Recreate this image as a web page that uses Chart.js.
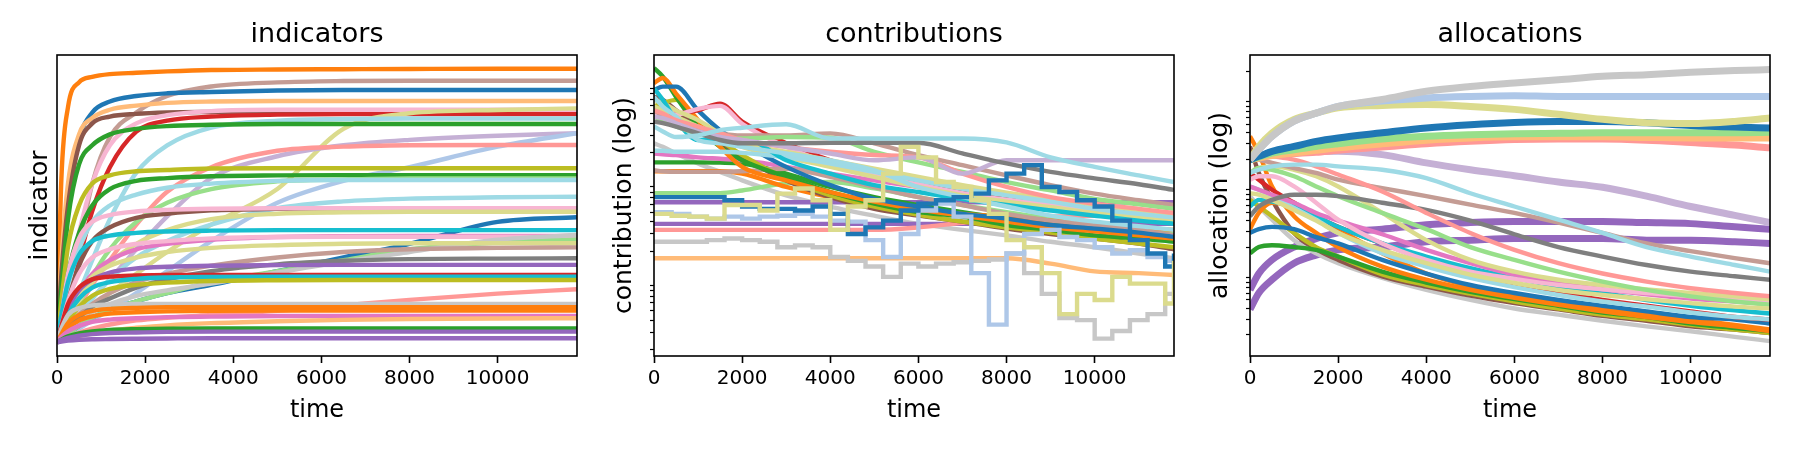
<!DOCTYPE html>
<html>
<head>
<meta charset="utf-8">
<script src="https://cdn.jsdelivr.net/npm/chart.js@4.4.1/dist/chart.umd.min.js"></script>
<style>
  html, body { margin: 0; padding: 0; background: #fff; overflow: hidden; }
  #wrap { position: relative; width: 1800px; height: 450px; overflow: hidden; }
  canvas { position: absolute; top: 0; }
</style>
</head>
<body>
<div id="wrap">
  <canvas id="c1" width="634" height="450" style="left:0px"></canvas>
  <canvas id="c2" width="634" height="450" style="left:597px"></canvas>
  <canvas id="c3" width="634" height="450" style="left:1193px"></canvas>
</div>
<script>
const tab20 = ['#1f77b4', '#aec7e8', '#ff7f0e', '#ffbb78', '#2ca02c', '#98df8a', '#d62728', '#ff9896', '#9467bd', '#c5b0d5',
               '#8c564b', '#c49c94', '#e377c2', '#f7b6d2', '#7f7f7f', '#c7c7c7', '#bcbd22', '#dbdb8d', '#17becf', '#9edae5'];

const xTicks = [0, 2000, 4000, 6000, 8000, 10000];
const timeMax = 11800;

// ---- indicators (linear) ----
const indicatorTimes = [0, 100, 250, 500, 800, 1200, 1800, 2500, 3500, 5000, 6500, 8000, 10000, 11800];
const indicatorColors = [2, 11, 0, 3, 10, 13, 6, 17, 19, 4, 9, 1, 7, 16, 4, 5, 19, 19, 10, 13, 17, 0,
                         18, 12, 13, 5, 15, 17, 11, 14, 8, 6, 18, 16, 7, 15, 2, 2, 12, 3, 4, 8, 8];
const indicatorSeries = [
  [0, 0.6, 0.86, 0.95, 0.97, 0.98, 0.985, 0.99, 0.995, 0.997, 0.998, 0.999, 1.0, 1.0],
  [0, 0.05, 0.15, 0.35, 0.58, 0.75, 0.84, 0.9, 0.935, 0.95, 0.955, 0.956, 0.956, 0.956],
  [0, 0.25, 0.5, 0.74, 0.84, 0.88, 0.9, 0.91, 0.915, 0.92, 0.922, 0.922, 0.922, 0.922],
  [0, 0.3, 0.58, 0.76, 0.82, 0.85, 0.865, 0.875, 0.88, 0.882, 0.882, 0.882, 0.882, 0.882],
  [0, 0.25, 0.5, 0.72, 0.8, 0.825, 0.835, 0.84, 0.842, 0.843, 0.843, 0.843, 0.843, 0.843],
  [0, 0.08, 0.2, 0.4, 0.58, 0.72, 0.8, 0.83, 0.845, 0.85, 0.85, 0.85, 0.85, 0.85],
  [0, 0.05, 0.14, 0.3, 0.48, 0.64, 0.77, 0.81, 0.825, 0.832, 0.834, 0.834, 0.834, 0.834],
  [0, 0.01, 0.03, 0.07, 0.12, 0.18, 0.25, 0.33, 0.43, 0.56, 0.78, 0.837, 0.849, 0.855],
  [0, 0.03, 0.08, 0.18, 0.3, 0.45, 0.62, 0.72, 0.785, 0.81, 0.816, 0.818, 0.818, 0.818],
  [0, 0.2, 0.45, 0.65, 0.72, 0.76, 0.78, 0.79, 0.795, 0.798, 0.798, 0.798, 0.798, 0.798],
  [0, 0.02, 0.05, 0.1, 0.16, 0.23, 0.34, 0.46, 0.6, 0.68, 0.72, 0.74, 0.755, 0.764],
  [0, 0.01, 0.025, 0.05, 0.08, 0.12, 0.18, 0.26, 0.37, 0.51, 0.59, 0.64, 0.715, 0.764],
  [0, 0.02, 0.06, 0.13, 0.21, 0.3, 0.43, 0.55, 0.64, 0.7, 0.715, 0.72, 0.721, 0.721],
  [0, 0.15, 0.35, 0.5, 0.58, 0.61, 0.625, 0.63, 0.635, 0.636, 0.636, 0.636, 0.636, 0.636],
  [0, 0.1, 0.25, 0.4, 0.5, 0.56, 0.59, 0.6, 0.607, 0.61, 0.611, 0.611, 0.611, 0.611],
  [0, 0.02, 0.06, 0.14, 0.24, 0.34, 0.44, 0.51, 0.56, 0.588, 0.595, 0.599, 0.599, 0.599],
  [0, 0.08, 0.2, 0.34, 0.44, 0.5, 0.54, 0.565, 0.58, 0.59, 0.593, 0.593, 0.593, 0.593],
  [0, 0.02, 0.05, 0.1, 0.16, 0.23, 0.31, 0.37, 0.43, 0.49, 0.515, 0.525, 0.53, 0.532],
  [0, 0.06, 0.15, 0.28, 0.37, 0.42, 0.455, 0.47, 0.482, 0.488, 0.49, 0.49, 0.49, 0.49],
  [0, 0.1, 0.25, 0.38, 0.44, 0.465, 0.478, 0.484, 0.488, 0.49, 0.49, 0.49, 0.49, 0.49],
  [0, 0.03, 0.08, 0.15, 0.22, 0.29, 0.36, 0.41, 0.45, 0.47, 0.475, 0.477, 0.477, 0.477],
  [0, 0.01, 0.03, 0.06, 0.09, 0.12, 0.15, 0.18, 0.21, 0.26, 0.31, 0.36, 0.44, 0.457],
  [0, 0.1, 0.22, 0.32, 0.37, 0.39, 0.4, 0.405, 0.408, 0.41, 0.41, 0.41, 0.41, 0.41],
  [0, 0.04, 0.1, 0.18, 0.25, 0.3, 0.34, 0.36, 0.375, 0.385, 0.388, 0.389, 0.389, 0.389],
  [0, 0.06, 0.15, 0.25, 0.31, 0.34, 0.36, 0.37, 0.38, 0.385, 0.386, 0.386, 0.386, 0.386],
  [0, 0.01, 0.03, 0.06, 0.09, 0.12, 0.15, 0.18, 0.22, 0.26, 0.3, 0.34, 0.365, 0.376],
  [0, 0.02, 0.05, 0.08, 0.11, 0.14, 0.17, 0.19, 0.215, 0.255, 0.295, 0.33, 0.375, 0.392],
  [0, 0.04, 0.1, 0.18, 0.24, 0.28, 0.31, 0.33, 0.345, 0.355, 0.36, 0.362, 0.362, 0.362],
  [0, 0.02, 0.05, 0.1, 0.14, 0.18, 0.22, 0.25, 0.28, 0.31, 0.33, 0.34, 0.345, 0.347],
  [0, 0.02, 0.05, 0.09, 0.13, 0.16, 0.2, 0.23, 0.26, 0.285, 0.298, 0.304, 0.306, 0.307],
  [0, 0.05, 0.12, 0.19, 0.23, 0.255, 0.27, 0.276, 0.28, 0.282, 0.283, 0.283, 0.283, 0.283],
  [0, 0.06, 0.14, 0.2, 0.23, 0.24, 0.244, 0.246, 0.246, 0.246, 0.246, 0.246, 0.246, 0.246],
  [0, 0.04, 0.1, 0.16, 0.2, 0.22, 0.232, 0.237, 0.239, 0.24, 0.24, 0.24, 0.24, 0.24],
  [0, 0.03, 0.08, 0.13, 0.17, 0.195, 0.21, 0.218, 0.224, 0.227, 0.228, 0.228, 0.228, 0.228],
  [0, 0.01, 0.02, 0.035, 0.05, 0.065, 0.08, 0.09, 0.1, 0.115, 0.135, 0.155, 0.178, 0.194],
  [0, 0.05, 0.1, 0.125, 0.135, 0.138, 0.14, 0.14, 0.14, 0.14, 0.14, 0.14, 0.14, 0.14],
  [0, 0.03, 0.07, 0.1, 0.115, 0.122, 0.126, 0.128, 0.128, 0.128, 0.128, 0.128, 0.128, 0.128],
  [0, 0.02, 0.05, 0.08, 0.095, 0.105, 0.11, 0.113, 0.115, 0.116, 0.116, 0.116, 0.116, 0.116],
  [0, 0.02, 0.04, 0.06, 0.075, 0.083, 0.088, 0.092, 0.094, 0.096, 0.096, 0.096, 0.096, 0.096],
  [0, 0.005, 0.012, 0.022, 0.033, 0.043, 0.053, 0.062, 0.07, 0.077, 0.082, 0.085, 0.087, 0.088],
  [0, 0.01, 0.022, 0.033, 0.04, 0.045, 0.048, 0.05, 0.051, 0.051, 0.051, 0.051, 0.051, 0.051],
  [0, 0.008, 0.016, 0.024, 0.03, 0.034, 0.036, 0.038, 0.039, 0.039, 0.039, 0.039, 0.039, 0.039],
  [0, 0.003, 0.006, 0.009, 0.011, 0.012, 0.013, 0.014, 0.015, 0.015, 0.015, 0.015, 0.015, 0.015]
];

// ---- contributions (log) ----
const contributionTimes = [0, 200, 500, 1000, 1500, 2000, 3000, 4000, 5000, 6000, 7000, 8000, 9000, 10000, 11000, 11800];
const contributionColors = [15, 3, 8, 8, 7, 5, 4, 2, 12, 11, 10, 16, 4, 2, 0, 6, 13, 17, 17, 19, 18, 19, 11, 5, 7, 9, 14, 19];
const contributionSeries = [
  [0.025, 0.023, 0.0197, 0.0156, 0.0128, 0.0105, 0.0074, 0.0057, 0.0046, 0.0038, 0.0033, 0.0029, 0.0025, 0.0022, 0.0019, 0.0017],
  [0.0017, 0.0017, 0.0017, 0.0017, 0.0017, 0.0017, 0.0017, 0.0017, 0.0017, 0.0017, 0.0017, 0.0017, 0.0015, 0.00125, 0.0012, 0.00115],
  [0.0063, 0.0063, 0.0063, 0.0063, 0.0063, 0.0063, 0.0063, 0.0063, 0.0063, 0.0063, 0.0063, 0.0063, 0.0063, 0.0063, 0.0063, 0.0063],
  [0.0038, 0.0038, 0.0038, 0.0038, 0.0038, 0.0038, 0.0038, 0.0038, 0.0038, 0.0038, 0.0038, 0.0038, 0.0038, 0.0038, 0.0038, 0.0038],
  [0.0033, 0.0033, 0.0033, 0.0033, 0.0033, 0.0033, 0.0033, 0.0033, 0.0033, 0.0035, 0.0039, 0.0043, 0.0045, 0.0046, 0.0047, 0.0047],
  [0.0078, 0.0078, 0.0078, 0.0078, 0.0078, 0.0083, 0.0098, 0.0101, 0.0087, 0.0071, 0.0059, 0.005, 0.0043, 0.0038, 0.0034, 0.0032],
  [0.016, 0.016, 0.016, 0.016, 0.0159, 0.0156, 0.0123, 0.009, 0.0071, 0.0059, 0.005, 0.0043, 0.0038, 0.0034, 0.0031, 0.0028],
  [0.013, 0.013, 0.013, 0.013, 0.013, 0.0123, 0.009, 0.0071, 0.0061, 0.0054, 0.0048, 0.0045, 0.0041, 0.0038, 0.0035, 0.0033],
  [0.0197, 0.0193, 0.019, 0.018, 0.0174, 0.0168, 0.0144, 0.0123, 0.0105, 0.009, 0.0078, 0.0068, 0.0061, 0.0054, 0.0048, 0.0045],
  [0.0133, 0.013, 0.0128, 0.0128, 0.0128, 0.013, 0.0138, 0.0114, 0.009, 0.0071, 0.0059, 0.0048, 0.0041, 0.0037, 0.0033, 0.0029],
  [0.074, 0.069, 0.054, 0.037, 0.025, 0.018, 0.0105, 0.0071, 0.0054, 0.0046, 0.004, 0.0034, 0.003, 0.0027, 0.0024, 0.0021],
  [0.059, 0.064, 0.069, 0.04, 0.027, 0.019, 0.011, 0.0074, 0.0057, 0.0047, 0.004, 0.0035, 0.0031, 0.0027, 0.0024, 0.0022],
  [0.145, 0.119, 0.074, 0.037, 0.023, 0.0168, 0.0114, 0.008, 0.0061, 0.005, 0.0045, 0.0037, 0.0033, 0.0029, 0.0027, 0.0025],
  [0.102, 0.115, 0.08, 0.043, 0.023, 0.0144, 0.0105, 0.008, 0.0064, 0.0053, 0.0046, 0.004, 0.0035, 0.0032, 0.0029, 0.0027],
  [0.087, 0.094, 0.094, 0.054, 0.034, 0.025, 0.0144, 0.0094, 0.0068, 0.0057, 0.0048, 0.0043, 0.0037, 0.0034, 0.0031, 0.0028],
  [0.0465, 0.048, 0.05, 0.054, 0.063, 0.0415, 0.025, 0.0168, 0.0123, 0.0098, 0.008, 0.0068, 0.0061, 0.0055, 0.0048, 0.0045],
  [0.05, 0.05, 0.049, 0.056, 0.06, 0.0395, 0.023, 0.0156, 0.0118, 0.0096, 0.0078, 0.0067, 0.006, 0.0053, 0.0047, 0.0044],
  [0.059, 0.054, 0.0465, 0.037, 0.029, 0.023, 0.018, 0.0144, 0.0114, 0.009, 0.0074, 0.0064, 0.0056, 0.0049, 0.0044, 0.004],
  [0.069, 0.064, 0.054, 0.043, 0.0315, 0.025, 0.0205, 0.0168, 0.0138, 0.0114, 0.0094, 0.0079, 0.0068, 0.0059, 0.0052, 0.0047],
  [0.021, 0.021, 0.0205, 0.0205, 0.0205, 0.02, 0.018, 0.0156, 0.0128, 0.0105, 0.0086, 0.0074, 0.0064, 0.0054, 0.0048, 0.0044],
  [0.09, 0.069, 0.043, 0.027, 0.028, 0.0285, 0.0168, 0.0123, 0.0094, 0.008, 0.0068, 0.0059, 0.0052, 0.0046, 0.0041, 0.0038],
  [0.074, 0.059, 0.0465, 0.027, 0.025, 0.023, 0.0197, 0.0168, 0.0133, 0.009, 0.0071, 0.0057, 0.0046, 0.004, 0.0036, 0.0033],
  [0.054, 0.048, 0.0415, 0.0355, 0.0315, 0.03, 0.03, 0.0315, 0.025, 0.019, 0.015, 0.0118, 0.0094, 0.0077, 0.0066, 0.0059],
  [0.0465, 0.043, 0.037, 0.0315, 0.029, 0.028, 0.029, 0.0285, 0.0205, 0.016, 0.0128, 0.0101, 0.0083, 0.0068, 0.006, 0.0054],
  [0.054, 0.05, 0.043, 0.037, 0.0315, 0.027, 0.023, 0.0205, 0.019, 0.018, 0.0123, 0.009, 0.0071, 0.0061, 0.0054, 0.0049],
  [0.0465, 0.045, 0.04, 0.033, 0.029, 0.027, 0.023, 0.0197, 0.0168, 0.018, 0.0123, 0.0168, 0.0168, 0.0168, 0.0168, 0.0168],
  [0.0415, 0.04, 0.037, 0.0315, 0.027, 0.025, 0.025, 0.0253, 0.0253, 0.0253, 0.0197, 0.0156, 0.0128, 0.011, 0.0096, 0.0084],
  [0.037, 0.033, 0.029, 0.03, 0.034, 0.036, 0.039, 0.028, 0.028, 0.028, 0.028, 0.0255, 0.018, 0.0144, 0.0118, 0.0101]
];
const contributionStepTimes = [0, 400, 800, 1200, 1600, 2000, 2400, 2800, 3200, 3600, 4000, 4400, 4800, 5200, 5600, 6000,
                               6400, 6800, 7200, 7600, 8000, 8400, 8800, 9200, 9600, 10000, 10400, 10800, 11200, 11600, 11800];
const contributionStepColors = [15, 1, 0, 17];
const contributionStepSeries = [
  [0.0025, 0.0025, 0.0025, 0.0026, 0.0027, 0.0026, 0.0025, 0.0022, 0.0023, 0.0022, 0.00175, 0.0016, 0.0014, 0.0011, 0.0015, 0.0014,
   0.0015, 0.00155, 0.0016, 0.00165, 0.0019, 0.0012, 0.00074, 0.00042, 0.0004, 0.00026, 0.00031, 0.0004, 0.00046, 0.00074, 0.00064],
  [0.005, 0.0048, 0.0045, 0.0043, 0.0045, 0.0043, 0.0045, 0.0046, 0.0048, 0.0045, 0.0041, 0.004, 0.0026, 0.00175, 0.003, 0.0052,
   0.0061, 0.0045, 0.0012, 0.00036, 0.0019, 0.003, 0.0033, 0.0028, 0.0026, 0.0022, 0.0019, 0.00205, 0.00175, 0.0016, 0.0016],
  [0.0071, 0.0071, 0.0071, 0.0071, 0.0066, 0.0057, 0.0054, 0.0054, 0.0052, 0.0057, 0.0048, 0.003, 0.0035, 0.0041, 0.0052, 0.0061,
   0.0066, 0.0071, 0.0077, 0.0105, 0.0123, 0.015, 0.009, 0.008, 0.0066, 0.0057, 0.0041, 0.0026, 0.0019, 0.0014, 0.0019],
  [0.0048, 0.0046, 0.0045, 0.0043, 0.0059, 0.0059, 0.0052, 0.0077, 0.0087, 0.0066, 0.0033, 0.0057, 0.0066, 0.0123, 0.023, 0.018,
   0.0101, 0.009, 0.0066, 0.0048, 0.0026, 0.0022, 0.0012, 0.00046, 0.00074, 0.00064, 0.0011, 0.00094, 0.00094, 0.00059, 0.0016]
];
const contributionMinorTicks = [0.09, 0.08, 0.07, 0.06, 0.05, 0.04, 0.03, 0.02,
                                0.009, 0.008, 0.007, 0.006, 0.005, 0.004, 0.003, 0.002,
                                0.0009, 0.0008, 0.0007, 0.0006, 0.0005, 0.0004, 0.0003, 0.0002];

// ---- allocations (log) ----
const allocationTimes = [0, 200, 500, 1000, 1500, 2000, 3000, 4000, 5000, 6000, 7000, 8000, 9000, 10000, 11000, 11800];
const allocationColors = [8, 8, 15, 10, 16, 4, 2, 2, 0, 6, 18, 19, 12, 13, 17, 5, 17, 14, 11, 7, 19, 9, 7, 3, 5, 0, 17, 1, 15];
const allocationSeries = [
  [0.00065, 0.001, 0.00143, 0.002, 0.0025, 0.0029, 0.0032, 0.0036, 0.0038, 0.0039, 0.0039, 0.0039, 0.0038, 0.0037, 0.0034, 0.0032],
  [0.00039, 0.0006, 0.00085, 0.00131, 0.00162, 0.00186, 0.002, 0.0023, 0.0024, 0.0025, 0.0025, 0.0025, 0.0024, 0.0024, 0.0023, 0.0022],
  [0.0076, 0.0058, 0.0041, 0.0024, 0.0017, 0.00131, 0.00089, 0.00065, 0.0005, 0.0004, 0.00034, 0.00029, 0.00025, 0.00022, 0.00019, 0.00017],
  [0.028, 0.014, 0.0069, 0.0029, 0.0019, 0.00143, 0.00093, 0.00071, 0.00056, 0.00046, 0.00039, 0.00033, 0.00029, 0.00025, 0.00023, 0.00021],
  [0.0069, 0.0058, 0.0045, 0.0029, 0.002, 0.00156, 0.00098, 0.00074, 0.00059, 0.00048, 0.0004, 0.00034, 0.0003, 0.00026, 0.00023, 0.00021],
  [0.0017, 0.002, 0.0021, 0.002, 0.00186, 0.00156, 0.00105, 0.00079, 0.00062, 0.00051, 0.00043, 0.00036, 0.00032, 0.00027, 0.00024, 0.00022],
  [0.0365, 0.0236, 0.0098, 0.0045, 0.0029, 0.002, 0.0012, 0.00085, 0.00065, 0.00053, 0.00044, 0.00037, 0.00032, 0.00028, 0.00025, 0.00022],
  [0.0032, 0.0049, 0.0064, 0.0058, 0.0045, 0.0032, 0.0017, 0.001, 0.00071, 0.00056, 0.00046, 0.0004, 0.00034, 0.0003, 0.00026, 0.00023],
  [0.0029, 0.0032, 0.0034, 0.0032, 0.0026, 0.0022, 0.00143, 0.001, 0.00074, 0.0006, 0.0005, 0.00043, 0.00037, 0.00032, 0.0003, 0.00027],
  [0.014, 0.0117, 0.009, 0.0064, 0.0045, 0.0034, 0.0022, 0.00143, 0.001, 0.00074, 0.0006, 0.0005, 0.00043, 0.00037, 0.00032, 0.0003],
  [0.0058, 0.0069, 0.0066, 0.0058, 0.0045, 0.0034, 0.0022, 0.00156, 0.00115, 0.00089, 0.00071, 0.0006, 0.0005, 0.00043, 0.00038, 0.00035],
  [0.0098, 0.009, 0.0076, 0.0056, 0.0041, 0.0029, 0.0017, 0.0012, 0.00089, 0.0007, 0.00057, 0.00048, 0.00042, 0.00036, 0.00032, 0.0003],
  [0.0098, 0.009, 0.0079, 0.0064, 0.0049, 0.004, 0.0028, 0.00186, 0.00131, 0.00097, 0.00078, 0.00066, 0.00058, 0.00052, 0.00048, 0.00045],
  [0.0117, 0.0128, 0.0128, 0.0098, 0.0064, 0.0041, 0.0022, 0.00143, 0.00105, 0.00087, 0.00074, 0.00066, 0.0006, 0.00055, 0.00051, 0.00048],
  [0.014, 0.0159, 0.0166, 0.0152, 0.0128, 0.0098, 0.0049, 0.0024, 0.00143, 0.00105, 0.00085, 0.00074, 0.00066, 0.0006, 0.00055, 0.00051],
  [0.014, 0.0159, 0.0152, 0.0128, 0.0098, 0.0076, 0.0049, 0.0032, 0.002, 0.00143, 0.00105, 0.00081, 0.00065, 0.00055, 0.00048, 0.00044],
  [0.0082, 0.0079, 0.0069, 0.0053, 0.004, 0.0029, 0.00186, 0.00131, 0.00097, 0.00078, 0.00065, 0.00057, 0.00051, 0.00046, 0.00042, 0.0004],
  [0.0045, 0.0058, 0.0069, 0.0079, 0.0079, 0.0076, 0.0064, 0.0053, 0.004, 0.0028, 0.002, 0.00156, 0.00125, 0.00105, 0.00093, 0.00085],
  [0.0216, 0.0198, 0.0182, 0.0159, 0.014, 0.0117, 0.0094, 0.0076, 0.0061, 0.0049, 0.0038, 0.0029, 0.0022, 0.0018, 0.0015, 0.00131],
  [0.0216, 0.0226, 0.0216, 0.0198, 0.0166, 0.0134, 0.0086, 0.0049, 0.0029, 0.00186, 0.00131, 0.001, 0.00081, 0.00068, 0.0006, 0.00055],
  [0.014, 0.0152, 0.0166, 0.0174, 0.0174, 0.0166, 0.0152, 0.0122, 0.0082, 0.0058, 0.0041, 0.0029, 0.002, 0.00156, 0.00125, 0.00105],
  [0.0198, 0.0216, 0.0232, 0.024, 0.0245, 0.0247, 0.0226, 0.0182, 0.0152, 0.013, 0.011, 0.0096, 0.0076, 0.0058, 0.0046, 0.0038],
  [0.0216, 0.022, 0.0226, 0.0232, 0.024, 0.0253, 0.0275, 0.03, 0.032, 0.0335, 0.034, 0.034, 0.033, 0.031, 0.029, 0.027],
  [0.0198, 0.0207, 0.022, 0.0236, 0.0253, 0.027, 0.03, 0.033, 0.035, 0.036, 0.036, 0.036, 0.0355, 0.035, 0.035, 0.035],
  [0.0198, 0.0212, 0.0236, 0.0257, 0.028, 0.03, 0.034, 0.0365, 0.038, 0.039, 0.0395, 0.04, 0.04, 0.04, 0.04, 0.0405],
  [0.0198, 0.0216, 0.0246, 0.028, 0.032, 0.035, 0.04, 0.0455, 0.0495, 0.0525, 0.054, 0.054, 0.052, 0.0485, 0.0465, 0.0455],
  [0.0198, 0.028, 0.04, 0.057, 0.067, 0.077, 0.082, 0.084, 0.08, 0.074, 0.065, 0.057, 0.052, 0.051, 0.054, 0.059],
  [0.0198, 0.0257, 0.0365, 0.0545, 0.067, 0.08, 0.092, 0.1, 0.104, 0.106, 0.104, 0.104, 0.104, 0.104, 0.104, 0.104],
  [0.0198, 0.0257, 0.0365, 0.0545, 0.067, 0.08, 0.096, 0.119, 0.135, 0.148, 0.161, 0.176, 0.184, 0.196, 0.205, 0.21]
];
const allocationMinorTicks = [0.2, 0.09, 0.08, 0.07, 0.06, 0.05, 0.04, 0.03, 0.02,
                              0.009, 0.008, 0.007, 0.006, 0.005, 0.004, 0.003, 0.002,
                              0.0009, 0.0008, 0.0007, 0.0006, 0.0005, 0.0004, 0.0003, 0.0002];

const FONT = 'DejaVu Sans';
const LINE_W = 4.4;
// the jittery allocation series read as wide bands in the reference
const allocationBand = new Set([0, 1, 21, 22, 23, 24, 25, 26, 27, 28]);

// box around the plot area, like the matplotlib spines
const framePlugin = {
  id: 'frame',
  afterDatasetsDraw(chart) {
    const { ctx, chartArea: a } = chart;
    ctx.save();
    ctx.strokeStyle = '#000';
    ctx.lineWidth = 1.6;
    ctx.strokeRect(a.left, a.top, a.right - a.left, a.bottom - a.top);
    ctx.restore();
  }
};

function toPoints(times, values) {
  return times.map((t, i) => ({ x: t, y: values[i] }));
}

function lineSets(times, series, colors, stepped, widthOf) {
  return series.map((vals, i) => ({
    data: toPoints(times, vals),
    borderColor: tab20[colors[i]],
    borderWidth: widthOf ? widthOf(i) : LINE_W,
    pointRadius: 0,
    fill: false,
    clip: 0,
    stepped: stepped ? 'before' : false,
    cubicInterpolationMode: 'monotone'
  }));
}

function makePanel(id, title, yLabel, datasets, yScale, yTitlePad) {
  datasets.forEach((d, i) => { d.order = datasets.length - i; });
  return new Chart(document.getElementById(id), {
    type: 'line',
    data: { datasets },
    plugins: [framePlugin],
    options: {
      responsive: false,
      animation: false,
      devicePixelRatio: 1,
      layout: { padding: 0 },
      plugins: {
        legend: { display: false },
        tooltip: { enabled: false },
        title: {
          display: true, text: title, color: '#000',
          font: { family: FONT, size: 27, weight: 'normal' },
          padding: { top: 18.6, bottom: 4 }
        }
      },
      scales: {
        x: {
          type: 'linear', min: 0, max: timeMax,
          afterBuildTicks: s => { s.ticks = xTicks.map(v => ({ value: v })); },
          afterFit: s => { s.height = 94; },
          grid: { display: true, drawOnChartArea: false, drawTicks: true, tickLength: 7, tickWidth: 1.6, tickColor: '#000' },
          border: { display: false },
          ticks: { color: '#000', font: { family: FONT, size: 20 }, padding: 4, maxRotation: 0, autoSkip: false,
                   callback: v => String(v) },
          title: { display: true, text: 'time', color: '#000', font: { family: FONT, size: 24 }, padding: { top: 0, bottom: 25 } }
        },
        y: Object.assign({
          afterFit: s => { s.width = 57; },
          border: { display: false },
          title: { display: true, text: yLabel, color: '#000', font: { family: FONT, size: 25 }, padding: { top: yTitlePad, bottom: 0 } }
        }, yScale),
        // empty right-hand gutter so the title centres over the plot
        gutter: {
          type: 'linear', position: 'right', display: true,
          afterFit: s => { s.width = 57; },
          grid: { display: false }, border: { display: false }, ticks: { display: false }
        }
      }
    }
  });
}

makePanel('c1', 'indicators', 'indicator',
  lineSets(indicatorTimes, indicatorSeries, indicatorColors, false),
  { type: 'linear', min: -0.05, max: 1.05,
    grid: { display: false }, ticks: { display: false } },
  25);

makePanel('c2', 'contributions', 'contribution (log)',
  lineSets(contributionTimes, contributionSeries, contributionColors, false)
    .concat(lineSets(contributionStepTimes, contributionStepSeries, contributionStepColors, true)),
  { type: 'logarithmic', min: 0.000173, max: 0.197,
    afterBuildTicks: s => { s.ticks = contributionMinorTicks.map(v => ({ value: v })); },
    grid: { display: true, drawOnChartArea: false, drawTicks: true, tickLength: 4, tickWidth: 1.2, tickColor: '#000' },
    ticks: { display: false } },
  12);

makePanel('c3', 'allocations', 'allocation (log)',
  lineSets(allocationTimes, allocationSeries, allocationColors, false, i => allocationBand.has(i) ? 7 : LINE_W),
  { type: 'logarithmic', min: 0.000115, max: 0.308,
    afterBuildTicks: s => { s.ticks = allocationMinorTicks.map(v => ({ value: v })); },
    grid: { display: true, drawOnChartArea: false, drawTicks: true, tickLength: 4, tickWidth: 1.2, tickColor: '#000' },
    ticks: { display: false } },
  12);
</script>
</body>
</html>
